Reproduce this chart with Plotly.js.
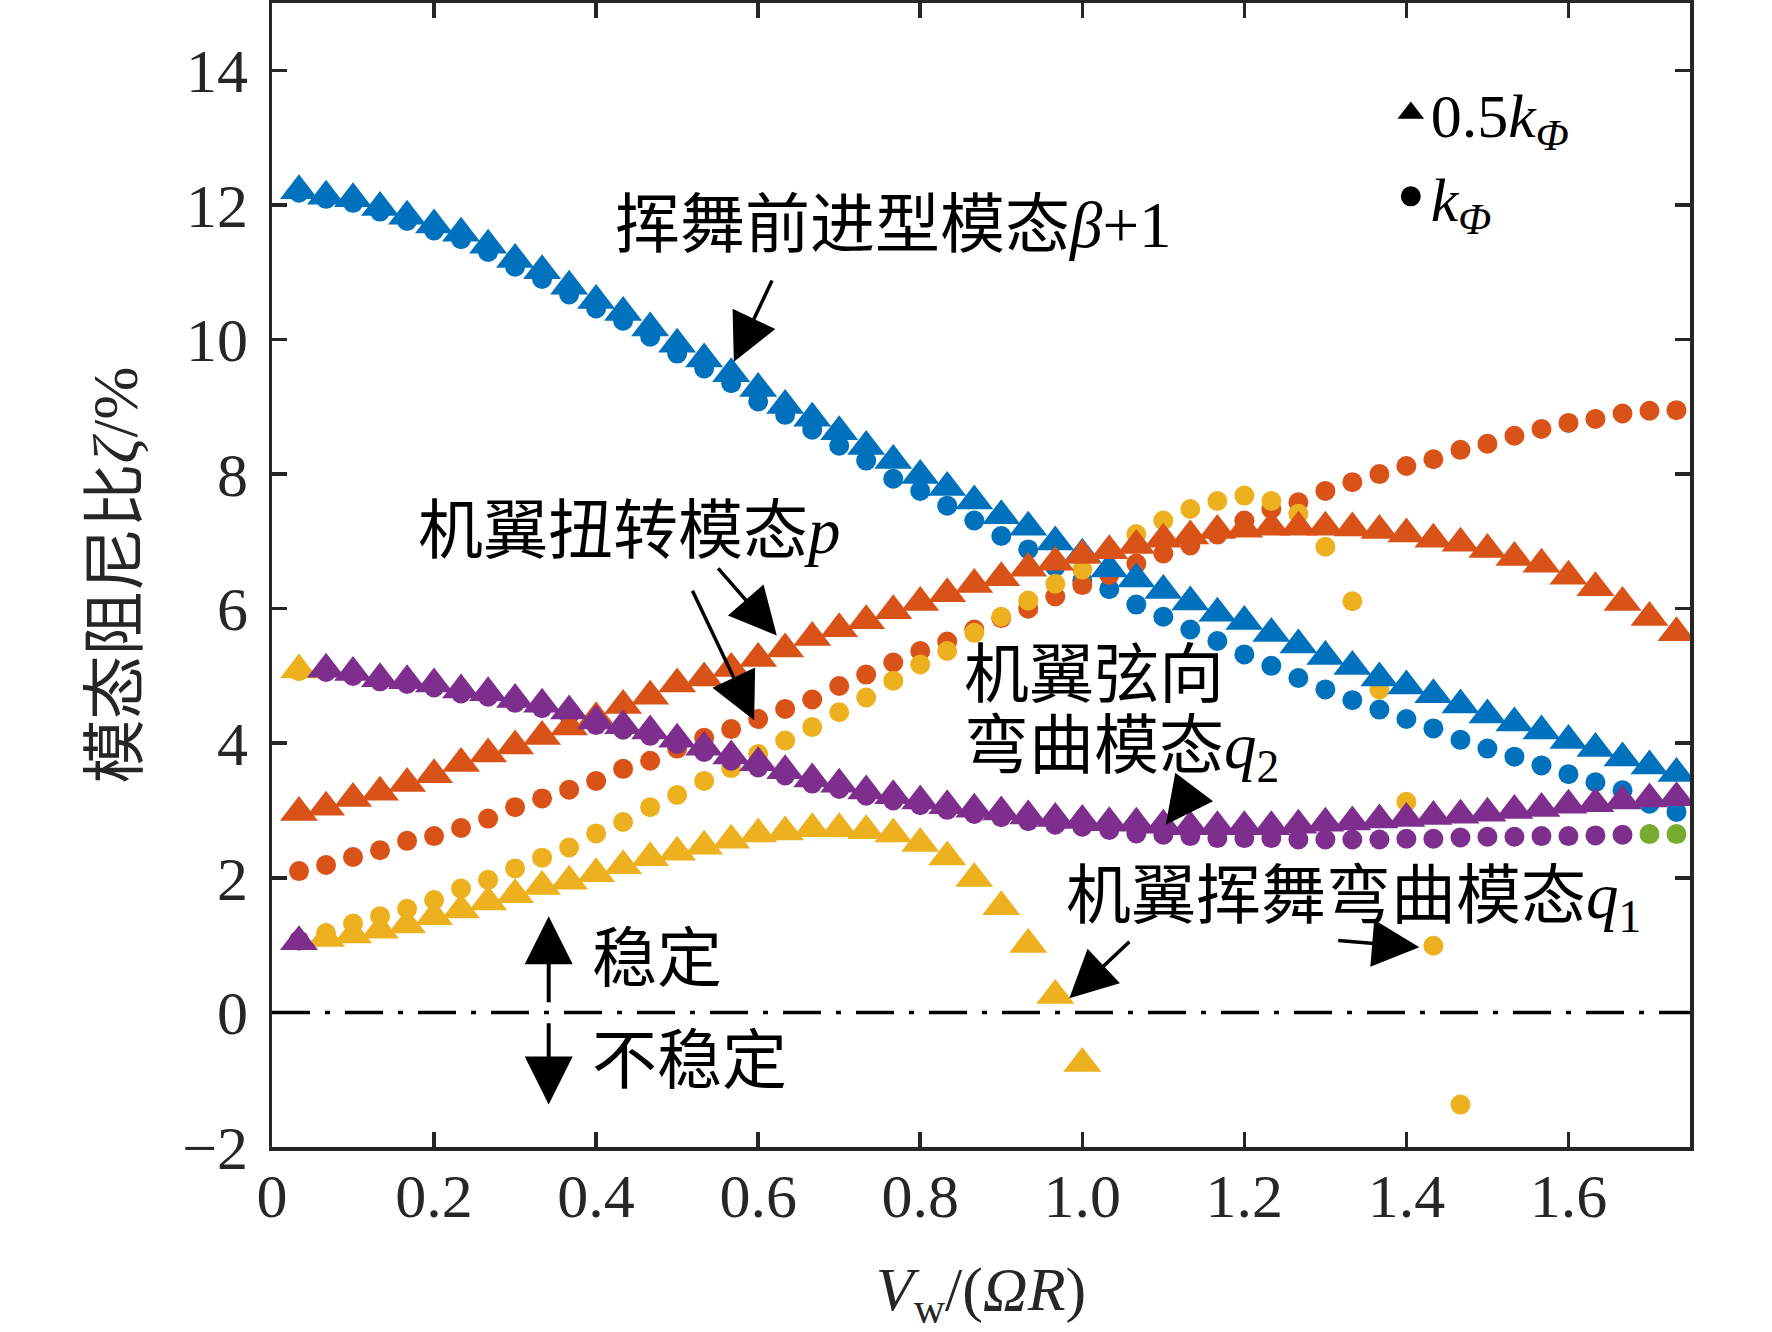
<!DOCTYPE html>
<html>
<head>
<meta charset="utf-8">
<script src="https://cdn.plot.ly/plotly-3.0.1.min.js"></script>
<style>
  html, body { margin: 0; padding: 0; background: #fff; }
  #plot { width: 1772px; height: 1332px; }
</style>
</head>
<body>
<div id="plot"></div>
<script>
// wind speed ratio Vw/(ΩR), one sample every 1/30
var speed = [0.0333, 0.0667, 0.1, 0.1333, 0.1667, 0.2, 0.2333, 0.2667, 0.3, 0.3333,
  0.3667, 0.4, 0.4333, 0.4667, 0.5, 0.5333, 0.5667, 0.6, 0.6333, 0.6667,
  0.7, 0.7333, 0.7667, 0.8, 0.8333, 0.8667, 0.9, 0.9333, 0.9667, 1.0,
  1.0333, 1.0667, 1.1, 1.1333, 1.1667, 1.2, 1.2333, 1.2667, 1.3, 1.3333,
  1.3667, 1.4, 1.4333, 1.4667, 1.5, 1.5333, 1.5667, 1.6, 1.6333, 1.6667,
  1.7, 1.7333];

// damping ratio (%), triangles = 0.5kΦ, circles = kΦ
// blade flap progressive mode β+1
var flapTri = [12.21, 12.13, 12.09, 11.96, 11.83, 11.70, 11.58, 11.40, 11.19, 11.02,
  10.79, 10.58, 10.40, 10.17, 9.93, 9.71, 9.49, 9.27, 9.02, 8.83,
  8.63, 8.41, 8.20, 7.98, 7.80, 7.60, 7.38, 7.21, 6.99, 6.81,
  6.59, 6.44, 6.27, 6.10, 5.93, 5.81, 5.63, 5.46, 5.29, 5.14,
  4.97, 4.85, 4.72, 4.57, 4.42, 4.30, 4.18, 4.04, 3.92, 3.78,
  3.66, 3.55];
var flapCir = [12.18, 12.09, 12.03, 11.90, 11.76, 11.62, 11.49, 11.30, 11.08, 10.90,
  10.67, 10.46, 10.28, 10.04, 9.79, 9.57, 9.35, 9.08, 8.88, 8.66,
  8.42, 8.20, 7.93, 7.75, 7.53, 7.31, 7.08, 6.88, 6.62, 6.42,
  6.29, 6.06, 5.88, 5.69, 5.52, 5.32, 5.15, 4.97, 4.80, 4.64,
  4.50, 4.36, 4.22, 4.05, 3.92, 3.80, 3.67, 3.54, 3.42, 3.30,
  3.10, 2.98];

// wing torsion mode p
var torTri = [2.97, 3.05, 3.18, 3.27, 3.40, 3.53, 3.70, 3.84, 3.96, 4.10,
  4.24, 4.38, 4.56, 4.70, 4.88, 4.97, 5.11, 5.26, 5.40, 5.57,
  5.70, 5.82, 5.97, 6.09, 6.22, 6.36, 6.46, 6.60, 6.69, 6.79,
  6.86, 6.94, 7.03, 7.08, 7.16, 7.18, 7.21, 7.21, 7.21, 7.20,
  7.16, 7.11, 7.03, 6.97, 6.88, 6.76, 6.66, 6.48, 6.31, 6.09,
  5.87, 5.64];
var torCir = [2.10, 2.19, 2.31, 2.41, 2.55, 2.62, 2.74, 2.88, 3.05, 3.18,
  3.31, 3.44, 3.62, 3.74, 3.92, 4.08, 4.21, 4.36, 4.51, 4.65,
  4.85, 5.02, 5.20, 5.37, 5.51, 5.69, 5.86, 6.00, 6.18, 6.35,
  6.50, 6.67, 6.82, 6.94, 7.10, 7.31, 7.48, 7.58, 7.75, 7.88,
  8.00, 8.12, 8.22, 8.36, 8.45, 8.57, 8.67, 8.76, 8.82, 8.90,
  8.94, 8.95];

// wing flapwise bending mode q1
var bendTri = [5.09, 1.10, 1.15, 1.22, 1.30, 1.42, 1.52, 1.64, 1.75, 1.87,
  1.95, 2.06, 2.18, 2.30, 2.38, 2.47, 2.56, 2.65, 2.68, 2.73,
  2.73, 2.70, 2.65, 2.51, 2.31, 1.99, 1.57, 1.01, 0.25, -0.76,
  null, null, null, null, null, null, null, null, null, null,
  null, null, null, null, null, null, null, null, null, null,
  null, null];
var bendCir = [5.07, 1.18, 1.32, 1.43, 1.54, 1.67, 1.84, 1.97, 2.14, 2.30,
  2.45, 2.66, 2.83, 3.05, 3.23, 3.44, 3.63, 3.84, 4.04, 4.24,
  4.46, 4.68, 4.93, 5.17, 5.37, 5.64, 5.88, 6.12, 6.37, 6.58,
  6.85, 7.11, 7.31, 7.48, 7.60, 7.68, 7.60, 7.41, 6.92, 6.11,
  4.80, 3.13, 0.99, -1.37, null, null, null, null, null, null,
  null, null];

// wing chordwise bending mode q2
var chordTri = [1.05, 5.10, 5.05, 4.96, 4.93, 4.88, 4.79, 4.75, 4.65, 4.58,
  4.48, 4.33, 4.26, 4.18, 4.06, 3.94, 3.81, 3.71, 3.59, 3.47,
  3.39, 3.29, 3.22, 3.14, 3.07, 3.02, 2.98, 2.92, 2.88, 2.85,
  2.82, 2.81, 2.78, 2.76, 2.76, 2.76, 2.76, 2.78, 2.81, 2.83,
  2.86, 2.88, 2.91, 2.93, 2.96, 3.00, 3.03, 3.08, 3.10, 3.14,
  3.17, 3.19];
var chordCir = [1.07, 5.06, 5.00, 4.92, 4.88, 4.83, 4.74, 4.69, 4.60, 4.52,
  4.42, 4.27, 4.20, 4.11, 3.99, 3.87, 3.74, 3.64, 3.52, 3.40,
  3.32, 3.22, 3.15, 3.08, 3.01, 2.95, 2.90, 2.84, 2.79, 2.76,
  2.71, 2.66, 2.64, 2.62, 2.59, 2.59, 2.59, 2.57, 2.57, 2.57,
  2.57, 2.58, 2.58, 2.60, 2.61, 2.61, 2.62, 2.62, 2.63, 2.64,
  null, null];

// fifth mode, only the last two kΦ samples
var extraCir = [null, null, null, null, null, null, null, null, null, null,
  null, null, null, null, null, null, null, null, null, null,
  null, null, null, null, null, null, null, null, null, null,
  null, null, null, null, null, null, null, null, null, null,
  null, null, null, null, null, null, null, null, null, null,
  2.65, 2.65];

var xTickVals = [0, 0.2, 0.4, 0.6, 0.8, 1.0, 1.2, 1.4, 1.6];
var xTickText = ['0', '0.2', '0.4', '0.6', '0.8', '1.0', '1.2', '1.4', '1.6'];
var yTickVals = [-2, 0, 2, 4, 6, 8, 10, 12, 14];
var yTickText = ['\u22122', '0', '2', '4', '6', '8', '10', '12', '14'];

var serif = 'Liberation Serif, Noto Sans CJK SC, serif';
var axisColor = '#262626';
var blue = '#0072BD', orange = '#D95319', yellow = '#EDB120', purple = '#7E2F8E', green = '#77AC30';

function markers(y, color, symbol) {
  return {
    x: speed, y: y, type: 'scatter', mode: 'markers', showlegend: false,
    hoverinfo: 'skip', cliponaxis: true,
    marker: {symbol: symbol, color: color, size: symbol === 'circle' ? 20 : 33, line: {width: 0}}
  };
}

var plotData = [
  markers(flapCir, blue, 'circle'),
  markers(torCir, orange, 'circle'),
  markers(bendCir, yellow, 'circle'),
  markers(chordCir, purple, 'circle'),
  markers(extraCir, green, 'circle'),
  markers(flapTri, blue, 'triangle-up'),
  markers(torTri, orange, 'triangle-up'),
  markers(bendTri, yellow, 'triangle-up'),
  markers(chordTri, purple, 'triangle-up'),
  // legend keys only (outline makes the capped legend symbol bigger)
  {x: [null], y: [null], type: 'scatter', mode: 'markers', name: '0.5<i>k</i><sub><i>\u03A6</i></sub>',
    marker: {symbol: 'triangle-up', color: '#000', size: 16, line: {color: '#000', width: 4}}},
  {x: [null], y: [null], type: 'scatter', mode: 'markers', name: '<i>k</i><sub><i>\u03A6</i></sub>',
    marker: {symbol: 'circle', color: '#000', size: 16, line: {color: '#000', width: 4}}}
];

function label(x, y, text) {
  return {x: x, y: y, xref: 'x', yref: 'y', text: text, showarrow: false,
    xanchor: 'left', yanchor: 'middle', font: {family: serif, size: 65, color: '#000'}};
}
function arrow(ax, ay, x, y, w, s) {
  return {x: x, y: y, ax: ax, ay: ay, xref: 'x', yref: 'y', axref: 'x', ayref: 'y',
    text: '', showarrow: true, arrowhead: 2, arrowsize: s || 2.7, arrowwidth: w || 3.5,
    arrowcolor: '#000', standoff: 0, startstandoff: 0};
}

var layout = {
  width: 1772, height: 1332,
  margin: {l: 272, r: 82, t: 3, b: 185},
  paper_bgcolor: '#fff', plot_bgcolor: '#fff',
  font: {family: serif, size: 62, color: '#000'},
  showlegend: true,
  legend: {x: 0.789, y: 0.945, xanchor: 'left', yanchor: 'top', bgcolor: 'rgba(0,0,0,0)',
    borderwidth: 0, font: {family: serif, size: 62, color: '#000'}, tracegroupgap: 0},
  xaxis: {
    range: [0, 1.75], tickvals: xTickVals, ticktext: xTickText,
    ticks: 'inside', ticklen: 15, tickwidth: 3.5, tickcolor: axisColor,
    showline: true, linewidth: 3.5, linecolor: axisColor, mirror: 'ticks',
    showgrid: false, zeroline: false, automargin: false,
    tickfont: {family: serif, size: 62, color: axisColor}, ticklabelstandoff: -8,
    title: {text: '<i>V</i><sub>w</sub>/(<i>\u03A9R</i>)', font: {family: serif, size: 62, color: axisColor}, standoff: 38}
  },
  yaxis: {
    range: [-2, 15], tickvals: yTickVals, ticktext: yTickText,
    ticks: 'inside', ticklen: 15, tickwidth: 3.5, tickcolor: axisColor,
    showline: true, linewidth: 3.5, linecolor: axisColor, mirror: 'ticks',
    showgrid: false, zeroline: false, automargin: false,
    tickfont: {family: serif, size: 62, color: axisColor}, ticklabelstandoff: 8,
    title: {text: '模态阻尼比<i>\u03B6</i>/%', font: {family: serif, size: 64, color: axisColor}, standoff: 24}
  },
  shapes: [
    {type: 'line', xref: 'x', yref: 'y', x0: 0, x1: 1.75, y0: 0, y1: 0,
      line: {color: '#000', width: 3.5, dash: '38px,15px,5px,15px'}}
  ],
  annotations: [
    label(0.421, 11.70, '挥舞前进型模态<i>\u03B2</i>+1'),
    label(0.178, 7.16, '机翼扭转模态<i>p</i>'),
    label(0.852, 5.02, '机翼弦向'),
    label(0.852, 3.88, '弯曲模态<i>q</i><sub>2</sub>'),
    label(0.978, 1.66, '机翼挥舞弯曲模态<i>q</i><sub>1</sub>'),
    label(0.393, 0.79, '稳定'),
    label(0.393, -0.72, '不稳定'),
    arrow(0.618, 10.9, 0.570, 9.67),
    arrow(0.549, 6.62, 0.623, 5.60),
    arrow(0.518, 6.29, 0.595, 4.34),
    arrow(1.138, 3.35, 1.103, 2.79),
    arrow(1.060, 1.07, 0.984, 0.21),
    arrow(1.314, 1.07, 1.416, 0.97),
    arrow(0.3415, 0.13, 0.3415, 1.43, 4, 2.4),
    arrow(0.3415, -0.14, 0.3415, -1.37, 4, 2.4)
  ]
};

Plotly.newPlot('plot', plotData, layout, {displayModeBar: false, staticPlot: true});
</script>
</body>
</html>
